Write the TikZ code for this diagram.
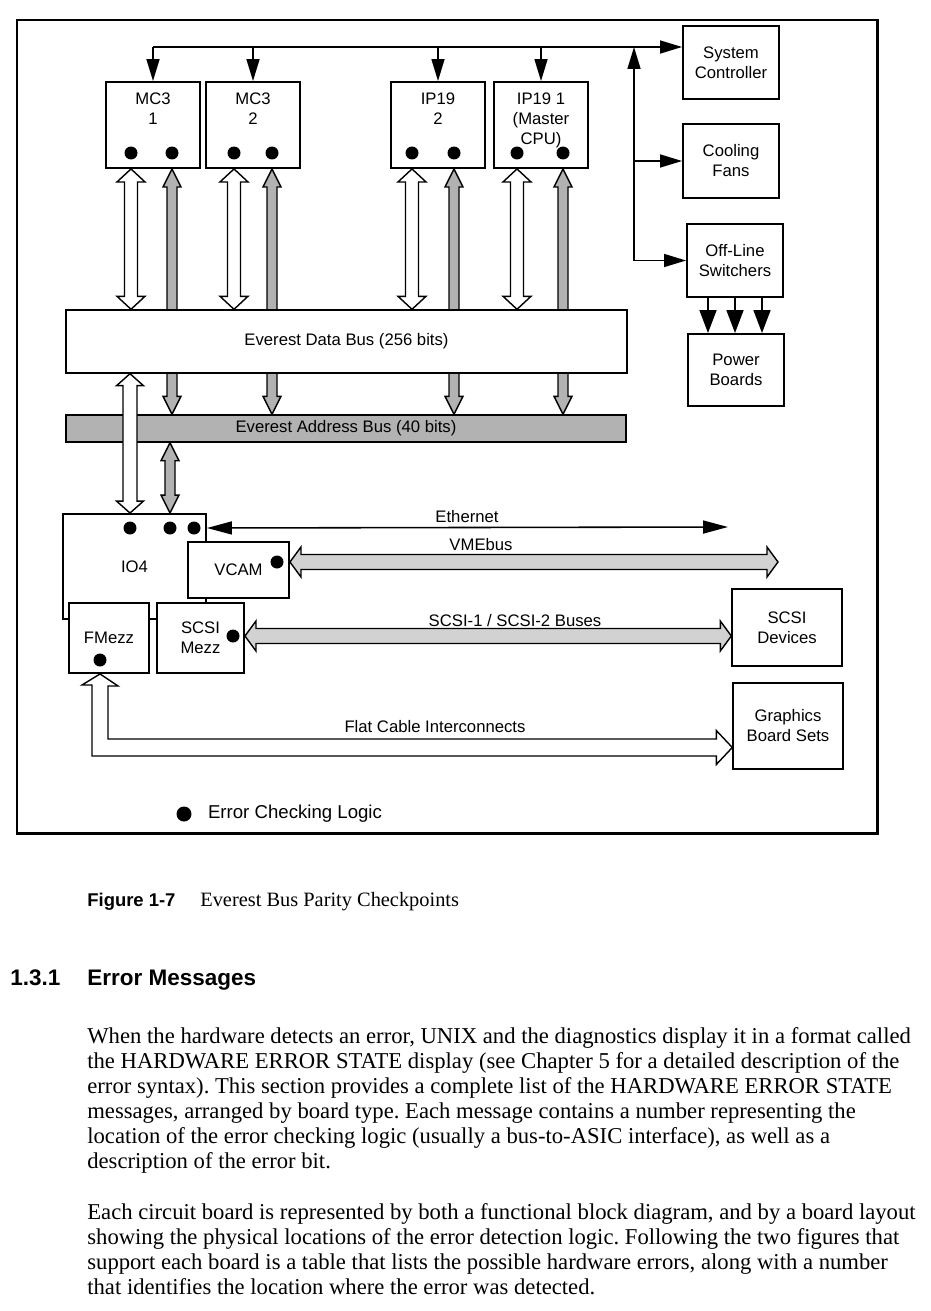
\documentclass[tikz,border=0pt]{standalone}
\usepackage{fontspec}
\setmainfont{Liberation Serif}
\setsansfont{Liberation Sans}
\usetikzlibrary{arrows.meta, positioning, calc, backgrounds}
\frenchspacing

% fat bus arrow, head at both ends: {fill}{from}{to}{shaft half}{head half}{head length} (px)
\newcommand{\busarrow}[6]{%
  \coordinate (busS) at (#2);
  \coordinate (busE) at (#3);
  \coordinate (busA) at ($(busS)!#6*0.02cm!(busE)$);
  \coordinate (busB) at ($(busE)!#6*0.02cm!(busS)$);
  \filldraw[fill=#1, line width=0.8pt]
    (busS) -- ($(busA)!#5*0.02cm!90:(busE)$) -- ($(busA)!#4*0.02cm!90:(busE)$)
    -- ($(busB)!#4*0.02cm!-90:(busS)$) -- ($(busB)!#5*0.02cm!-90:(busS)$)
    -- (busE) -- ($(busB)!#5*0.02cm!90:(busS)$) -- ($(busB)!#4*0.02cm!90:(busS)$)
    -- ($(busA)!#4*0.02cm!-90:(busE)$) -- ($(busA)!#5*0.02cm!-90:(busE)$) -- cycle;
}

\begin{document}
\begin{tikzpicture}[x=0.02cm, y=-0.02cm,
  font=\sffamily\fontsize{9.5}{11.4}\selectfont,
  >={Triangle[length=0.44cm, width=0.26cm]},
  box/.style={draw, line width=1.1pt, fill=white, inner sep=0pt, align=center},
  ecl/.style={circle, fill=black, inner sep=0pt, minimum size=0.26cm},
  wire/.style={line width=0.9pt},
  lbl/.style={inner sep=1pt, align=center}]

  \useasboundingbox (0,0) rectangle (930,1311);

  % ===== FRAME =====
  \draw[line width=1.7pt] (17,20) rectangle (877,833);

  % ===== BOARDS =====
  \node[box, minimum width=1.88cm, minimum height=1.72cm] (mc1) at (153,125) {};
  \node[box, minimum width=1.88cm, minimum height=1.72cm] (mc2) at (253,125) {};
  \node[box, minimum width=1.88cm, minimum height=1.72cm] (ip2) at (438,125) {};
  \node[box, minimum width=1.88cm, minimum height=1.72cm] (ip1) at (541,125) {};
  \node[lbl, anchor=north] (mc1t) at ([yshift=-0.2cm]mc1.north) {MC3\\1};
  \node[lbl, anchor=north] (mc2t) at ([yshift=-0.2cm]mc2.north) {MC3\\2};
  \node[lbl, anchor=north] (ip2t) at ([yshift=-0.2cm]ip2.north) {IP19\\2};
  \node[lbl, anchor=north] (ip1t) at ([yshift=-0.2cm]ip1.north) {IP19 1\\(Master\\CPU)};

  % Error checking logic on the boards
  \node[ecl] (mc1a) at (131,153) {};
  \node[ecl] (mc1b) at (172,153) {};
  \node[ecl] (mc2a) at (234,153) {};
  \node[ecl] (mc2b) at (272,153) {};
  \node[ecl] (ip2a) at (412,153) {};
  \node[ecl] (ip2b) at (454,153) {};
  \node[ecl] (ip1a) at (517,153) {};
  \node[ecl] (ip1b) at (563,153) {};

  % ===== SYSTEM SIDE =====
  \node[box, minimum width=1.92cm, minimum height=1.46cm] (sysctl) at (731,62.5) {System\\Controller};
  \node[box, minimum width=1.92cm, minimum height=1.48cm] (fans) at (731,161) {Cooling\\Fans};
  \node[box, minimum width=1.92cm, minimum height=1.46cm] (switch) at (735,260.5) {Off-Line\\Switchers};
  \node[box, minimum width=1.92cm, minimum height=1.44cm] (power) at (736,370) {Power\\Boards};

  % ===== BUSES =====
  \node[box, line width=0.8pt, minimum width=11.22cm, minimum height=1.26cm] (dbus) at (346.5,341.5) {\raisebox{-0.1cm}{Everest Data Bus (256 bits)}};
  \node[box, line width=0.8pt, fill=gray!60, minimum width=11.2cm, minimum height=0.54cm] (abus) at (346,428.5) {Everest Address Bus (40 bits)};

  % ===== IO4 =====
  \node[box, minimum width=2.86cm, minimum height=2.1cm] (io4) at (134.5,566.5) {IO4};
  \node[box, minimum width=2.02cm, minimum height=1.12cm] (vcam) at (238.5,570) {VCAM};
  \node[box, minimum width=1.74cm, minimum height=1.4cm] (scsim) at (200.5,638) {SCSI\\Mezz};
  \node[box, minimum width=1.6cm, minimum height=1.4cm] (fmezz) at (109,638) {FMezz};
  \node[ecl] (io4a) at (130,528) {};
  \node[ecl] (io4b) at (170,528) {};
  \node[ecl] (io4c) at (194,528) {};
  \node[ecl] (vdot) at (277,562) {};
  \node[ecl] (sdot) at (233,636) {};
  \node[ecl] (fdot) at (100,660) {};

  \node[box, line width=0.8pt, minimum width=2.2cm, minimum height=1.54cm] (scsidev) at (787,627.5) {SCSI\\Devices};
  \node[box, line width=0.8pt, minimum width=2.2cm, minimum height=1.72cm] (gfx) at (788,726) {Graphics\\Board Sets};

  % ===== CONTROL LINES =====
  \coordinate (ctl) at (634,47);
  \draw[wire, ->] (mc1.north |- ctl) -- (sysctl.west |- ctl);
  \foreach \b in {mc1, mc2, ip2, ip1}
    \draw[wire, ->] (\b.north |- ctl) -- (\b.north);
  \draw[wire, ->] (switch.west -| ctl) -- (ctl);
  \draw[wire, ->] (fans.west -| ctl) -- (fans.west);
  \draw[wire, ->] (switch.west -| ctl) -- (switch.west);
  \foreach \dx in {-0.54, 0, 0.54}
    \draw[wire, -{Triangle[length=0.46cm, width=0.34cm]}] ([xshift=\dx cm]switch.south) -- ([xshift=\dx cm]switch.south |- power.north);

  % ===== BUS ARROWS =====
  \begin{pgfonlayer}{background}
    \foreach \d/\b in {mc1b/mc1, mc2b/mc2, ip2b/ip2, ip1b/ip1}
      {\busarrow{gray!60}{\d |- \b.south}{\d |- abus.north}{5}{9}{18}}
  \end{pgfonlayer}
  \foreach \d/\b in {mc1a/mc1, mc2a/mc2, ip2a/ip2, ip1a/ip1}
    {\busarrow{white}{\d |- \b.south}{\d |- dbus.north}{6.5}{14}{13}}
  \busarrow{white}{io4a |- dbus.south}{io4a |- io4.north}{7}{13.5}{12}
  \busarrow{gray!60}{io4b |- abus.south}{io4b |- io4.north}{5}{9}{18}

  % Ethernet
  \coordinate (ethend) at (728,527);
  \draw[wire, <->, >={Triangle[length=0.5cm, width=0.26cm]}] (io4.east |- io4c) -- (ethend);
  \node[lbl] (ethlbl) at (467,517) {Ethernet};

  % VMEbus
  \coordinate (vmeend) at (778,562);
  \busarrow{gray!35}{vcam.east |- vdot}{vmeend}{7.5}{15}{11}
  \node[lbl] (vmelbl) at (481,545) {VMEbus};

  % SCSI buses
  \busarrow{gray!35}{scsim.east |- sdot}{scsidev.west |- sdot}{7.5}{15}{11}
  \node[lbl] (scsilbl) at (515,621) {SCSI-1 / SCSI-2 Buses};

  % Flat cable
  \coordinate (flattop) at (fdot |- fmezz.south);
  \coordinate (flatend) at (gfx.west |- 0,747.5);
  \coordinate (flatin) at ($(flattop |- flatend)+(8,-8.5)$);
  \coordinate (flatout) at ($(flattop |- flatend)+(-8,8.5)$);
  \filldraw[fill=white, line width=0.8pt] (flattop) -- ++(18,12) -- ++(-10,0) -- (flatin)
    -- ($(flatend)+(-16,-8.5)$) -- ++(0,-8.5) -- (flatend) -- ++(-16,17) -- ++(0,-8.5)
    -- (flatout) -- ++(0,-71) -- ++(-10,0) -- cycle;
  \node[lbl] (flatlbl) at (435,727) {Flat Cable Interconnects};

  % Legend
  \node[ecl, minimum size=0.3cm] (legdot) at (184,814) {};
  \node[right=0.2cm of legdot, font=\sffamily\fontsize{10.6}{12}\selectfont] (legtxt) {Error Checking Logic};

  % ===== CAPTION AND TEXT =====
  \node[anchor=base west, inner sep=0pt, font=\sffamily\bfseries\fontsize{10.5}{12}\selectfont] (figno) at (87,906) {Figure 1-7};
  \node[anchor=base west, inner sep=0pt, font=\rmfamily\fontsize{11.6}{13}\selectfont] (figtitle) at (200,906) {Everest Bus Parity Checkpoints};

  \node[anchor=base west, inner sep=0pt, font=\sffamily\bfseries\fontsize{12.8}{14}\selectfont] (secno) at (10,985) {1.3.1};
  \node[anchor=base west, inner sep=0pt, font=\sffamily\bfseries\fontsize{12.8}{14}\selectfont] (sectitle) at (87,985) {Error Messages};

  \node[anchor=north west, inner sep=0pt, align=left, font=\rmfamily\fontsize{12.9}{14.23}\selectfont] (para1) at (87,1027) {%
    When the hardware detects an error, UNIX and the diagnostics display it in a format called\\
    the HARDWARE ERROR STATE display (see Chapter 5 for a detailed description of the\\
    error syntax). This section provides a complete list of the HARDWARE ERROR STATE\\
    messages, arranged by board type. Each message contains a number representing the\\
    location of the error checking logic (usually a bus-to-ASIC interface), as well as a\\
    description of the error bit.};
  \node[anchor=north west, inner sep=0pt, align=left, font=\rmfamily\fontsize{12.9}{14.23}\selectfont] (para2) at (87,1203) {%
    Each circuit board is represented by both a functional block diagram, and by a board layout\\
    showing the physical locations of the error detection logic. Following the two figures that\\
    support each board is a table that lists the possible hardware errors, along with a number\\
    that identifies the location where the error was detected.};
\end{tikzpicture}
\end{document}
